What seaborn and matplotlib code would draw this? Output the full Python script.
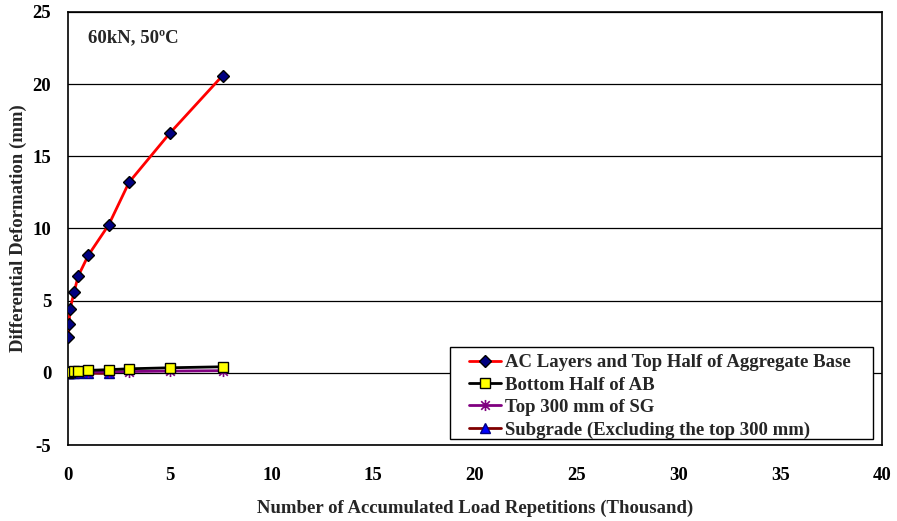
import matplotlib
matplotlib.use("Agg")
import matplotlib.pyplot as plt
from matplotlib.patches import Rectangle
from matplotlib.path import Path
import seaborn as sns
import pandas as pd

# Data (x in thousand repetitions, y in mm)
x_ac = [0.02, 0.05, 0.1, 0.3, 0.5, 1, 2, 3, 5, 7.6]
y_ac = [2.5, 3.4, 4.4, 5.6, 6.7, 8.15, 10.25, 13.2, 16.6, 20.6]

x_ab = [0.02, 0.05, 0.1, 0.3, 0.5, 1, 2, 3, 5, 7.6]
y_ab = [0.02, 0.04, 0.06, 0.1, 0.15, 0.17, 0.22, 0.28, 0.35, 0.42]

x_sg = [0.02, 0.05, 0.1, 0.3, 0.5, 1, 2, 3, 5, 7.6]
y_sg = [0.0, 0.01, 0.02, 0.03, 0.04, 0.05, 0.07, 0.09, 0.12, 0.15]

x_sub = [0.02, 0.05, 0.1, 0.3, 0.5, 1, 2]
y_sub = [-0.02, -0.02, -0.03, -0.03, -0.03, -0.03, -0.04]

labels = ["AC Layers and Top Half of Aggregate Base",
          "Bottom Half of AB",
          "Top 300 mm of SG",
          "Subgrade (Excluding the top 300 mm)"]

sns.set_style("white")
plt.rcParams['font.family'] = ['Liberation Serif', 'DejaVu Serif']
plt.rcParams['font.weight'] = 'bold'
plt.rcParams['axes.unicode_minus'] = False

# asterisk marker (x with vertical bar)
star = Path([(-1, -1), (1, 1), (-1, 1), (1, -1), (0, -1.3), (0, 1.3)],
            [Path.MOVETO, Path.LINETO, Path.MOVETO, Path.LINETO,
             Path.MOVETO, Path.LINETO])

fig = plt.figure(figsize=(8.97, 5.21), dpi=100)
ax = fig.add_axes([68/897, 1-445/521, (882-68)/897, (445-12)/521])

series = [
    (x_sub, y_sub, labels[3], "#800000", "^", "#0000ff", "#000080", 7),
    (x_sg, y_sg, labels[2], "#800080", star, "none", "#800080", 8),
    (x_ab, y_ab, labels[1], "#000000", "s", "#ffff00", "#000000", 7),
    (x_ac, y_ac, labels[0], "#ff0000", "D", "#000080", "#000000", 6),
]
for xs, ys, lab, lc, mk, mfc, mec, ms in series:
    df = pd.DataFrame({"x": xs, "y": ys})
    sns.lineplot(data=df, x="x", y="y", ax=ax, color=lc, linewidth=2,
                 marker=mk, markersize=ms, markerfacecolor=mfc,
                 markeredgecolor=mec,
                 markeredgewidth=1 if not isinstance(mk, Path) else 1.2,
                 label=lab, sort=False, zorder=3)

ax.set_xlim(0, 40)
ax.set_ylim(-5, 25)
ax.set_xticks(range(0, 41, 5))
ax.set_yticks(range(-5, 26, 5))
ax.yaxis.grid(True, color="black", linewidth=0.9)
ax.xaxis.grid(False)
for s in ax.spines.values():
    s.set_color("black")
    s.set_linewidth(1.2)
ax.tick_params(axis="y", direction="out", length=6, width=1, colors="black",
               labelsize=13.5, pad=6)
ax.tick_params(axis="x", direction="inout", length=12, width=1, colors="black",
               labelsize=13.5, pad=10)
for t in ax.get_xticklabels() + ax.get_yticklabels():
    t.set_fontweight("bold")

ax.set_xlabel("Number of Accumulated Load Repetitions (Thousand)", fontsize=13.5,
              fontweight="bold", labelpad=11)
ax.set_ylabel("Differential Deformation (mm)", fontsize=13.5, fontweight="bold",
              labelpad=4)

ax.text(0.025, 0.94, "60kN, 50ºC", transform=ax.transAxes, fontsize=13.5,
        fontweight="bold", va="center", ha="left")

# legend frame (white box with black border)
frame = Rectangle((0.4693, 0.0139), 0.989 - 0.4693, 0.2263 - 0.0139,
                  transform=ax.transAxes, facecolor="white", edgecolor="black",
                  linewidth=1.0, zorder=4)
ax.add_patch(frame)

h, l = ax.get_legend_handles_labels()
order = [l.index(x) for x in labels]
leg = ax.legend([h[i] for i in order], [l[i] for i in order],
                loc="upper left", bbox_to_anchor=(0.4926, 0.2102),
                prop={"family": "Liberation Serif", "weight": "bold", "size": 13.5},
                frameon=False, handlelength=1.7, handletextpad=0.21,
                borderpad=0, labelspacing=0.285, borderaxespad=0)
leg.set_zorder(5)

fig.savefig("out.png", dpi=100)
